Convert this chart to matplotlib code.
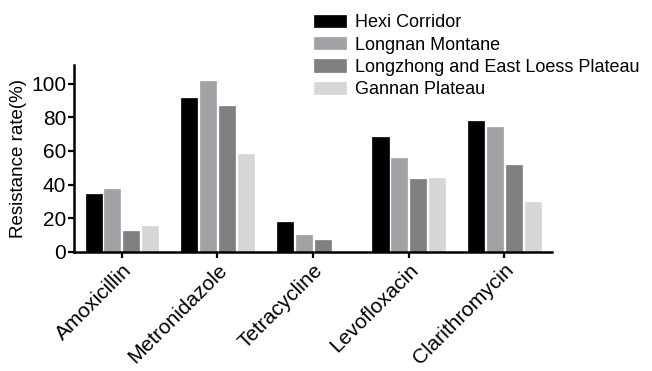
import matplotlib
matplotlib.use("Agg")
import matplotlib.pyplot as plt
import numpy as np

plt.rcParams['font.family'] = ['Liberation Sans', 'DejaVu Sans']

categories = ["Amoxicillin", "Metronidazole", "Tetracycline", "Levofloxacin", "Clarithromycin"]
series_names = ["Hexi Corridor", "Longnan Montane", "Longzhong and East Loess Plateau", "Gannan Plateau"]
hexi = [34.4, 91.4, 17.6, 68.0, 77.9]
longnan = [37.4, 101.5, 10.1, 55.6, 74.0]
longzhong = [12.3, 86.7, 6.9, 43.3, 51.8]
gannan = [15.4, 58.2, 0.0, 44.1, 29.7]
yticks = [0, 20, 40, 60, 80, 100]

colors = ["#000000", "#a1a1a6", "#808080", "#d6d6d6"]
series = [hexi, longnan, longzhong, gannan]

fig = plt.figure(figsize=(6.52, 3.71), dpi=100)
ax = fig.add_axes([0.1135, 0.3208, 0.847 - 0.1135, 0.8248 - 0.3208])

x = np.arange(len(categories))
step = 0.197
width = 0.168
for i, (vals, c, name) in enumerate(zip(series, colors, series_names)):
    ax.bar(x + (i - 1.5) * step, vals, width=width, color=c, label=name,
           edgecolor=c, linewidth=0.5)

ax.set_xlim(-0.5, 4.5)
ax.set_ylim(0, 111)
ax.set_yticks(yticks)
ax.set_xticks(x)
ax.set_xticklabels(categories, rotation=45, ha='right', rotation_mode='anchor', fontsize=15)
ax.tick_params(axis='y', labelsize=15, width=1.6, length=4.5, pad=1)
ax.tick_params(axis='x', width=1.6, length=4.5, pad=1.5)
for s in ['top', 'right']:
    ax.spines[s].set_visible(False)
for s in ['left', 'bottom']:
    ax.spines[s].set_linewidth(1.8)
ax.set_ylabel("Resistance rate(%)", fontsize=13.5, labelpad=3)

fig.legend(loc='upper left', bbox_to_anchor=(0.481, 0.962), frameon=False,
           fontsize=13, handlelength=1.77, handleheight=0.69, handletextpad=0.5,
           labelspacing=0.3, borderaxespad=0, borderpad=0)

fig.savefig("out.png", dpi=100)
